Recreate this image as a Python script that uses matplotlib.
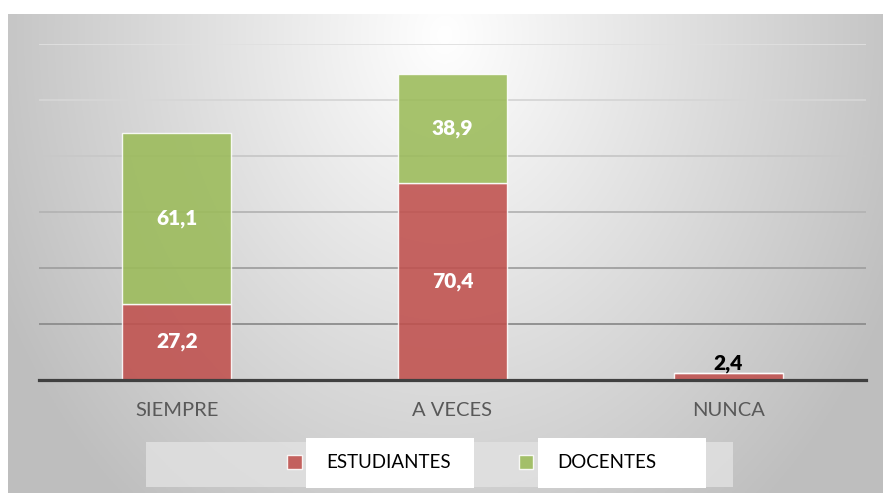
import numpy as np
import matplotlib.pyplot as plt
from matplotlib.patches import Patch, Rectangle

plt.rcParams['font.family'] = ['Lato', 'DejaVu Sans']

# datos
categorias = ['SIEMPRE', 'A VECES', 'NUNCA']
estudiantes = [27.2, 70.4, 2.4]
docentes = [61.1, 38.9, 0.0]
series = ['ESTUDIANTES', 'DOCENTES']

W, H = 883, 495
fig = plt.figure(figsize=(W / 100, H / 100), dpi=100)
fig.patch.set_facecolor('white')

# fondo con degradado
bg = fig.add_axes([8 / W, (H - 493) / H, (W - 8) / W, (493 - 14) / H])
xx, yy = np.meshgrid(np.linspace(0, W - 8, 400), np.linspace(0, 479, 240))
r = np.sqrt(((xx - 437) / 450) ** 2 + ((yy - 20) / 560) ** 2)
g = 1.0 - 0.23 * np.clip(r, 0, 1.1)
bg.imshow(np.dstack([g, g, g]), aspect='auto', extent=(0, 1, 0, 1), origin='upper')
bg.axis('off')

# grafico principal
ax = fig.add_axes([39 / W, (H - 380) / H, 827 / W, 336 / H])
ax.set_facecolor('none')
x = np.arange(len(categorias))
ancho = 0.395

grid_cols = ['#8c8c8c', '#a0a0a0', '#b4b4b4', '#c8c8c8', '#d6d6d6', '#e0e0e0']
for val, c in zip([20, 40, 60, 80, 100, 120], grid_cols):
    ax.axhline(val, color=c, lw=1.3, zorder=0)

borde = (1, 1, 1, 0.35)
b1 = ax.bar(x, estudiantes, ancho, color='#C0504D', alpha=0.88,
            edgecolor=borde, lw=1, zorder=2)
b2 = ax.bar(x, docentes, ancho, bottom=estudiantes, color='#9BBB59', alpha=0.88,
            edgecolor=borde, lw=1, zorder=2)

fmt = lambda v: f'{v:.1f}'.replace('.', ',')
ax.bar_label(b1, labels=[fmt(estudiantes[0]), fmt(estudiantes[1]), ''],
             label_type='center', color='white', fontsize=15, fontweight='heavy')
ax.bar_label(b1, labels=['', '', fmt(estudiantes[2])], label_type='edge',
             padding=0, color='black', fontsize=15, fontweight='heavy')
ax.bar_label(b2, labels=[fmt(v) if v > 0 else '' for v in docentes],
             label_type='center', color='white', fontsize=15, fontweight='heavy')

ax.set_xlim(-0.5, 2.5)
ax.set_ylim(0, 120)
for s in ['top', 'left', 'right']:
    ax.spines[s].set_visible(False)
ax.spines['bottom'].set_color('#404040')
ax.spines['bottom'].set_linewidth(2.3)
ax.spines['bottom'].set_zorder(3)
ax.set_yticks([])
ax.set_xticks(x)
ax.set_xticklabels(categorias, fontsize=14.5, color='#595959')
ax.tick_params(axis='x', length=0, pad=16)

# leyenda
fig.patches.append(Rectangle((146 / W, (H - 487) / H), (733 - 146) / W, 45 / H,
                             transform=fig.transFigure, facecolor='#e2e2e2',
                             edgecolor='none', alpha=0.8, zorder=1))
handles = [Patch(facecolor='#C0504D', alpha=0.88, edgecolor=borde),
           Patch(facecolor='#9BBB59', alpha=0.88, edgecolor=borde)]
leg = fig.legend(handles, series, loc='center', bbox_to_anchor=(472 / W, (H - 463) / H),
                 ncol=2, frameon=False, fontsize=13.5, handlelength=0.78,
                 handleheight=0.78, handletextpad=1.3, columnspacing=3.6)
for t in leg.get_texts():
    t.set_color('black')
fig.canvas.draw()
rend = fig.canvas.get_renderer()
for t in leg.get_texts():
    bb = t.get_window_extent(rend)
    cy = (bb.y0 + bb.y1) / 2
    fig.patches.append(Rectangle(((bb.x0 - 20) / W, (cy - 25) / H), 168 / W, 50 / H,
                                 transform=fig.transFigure, facecolor='white',
                                 edgecolor='none', zorder=2))

fig.savefig('out.png', dpi=100)
